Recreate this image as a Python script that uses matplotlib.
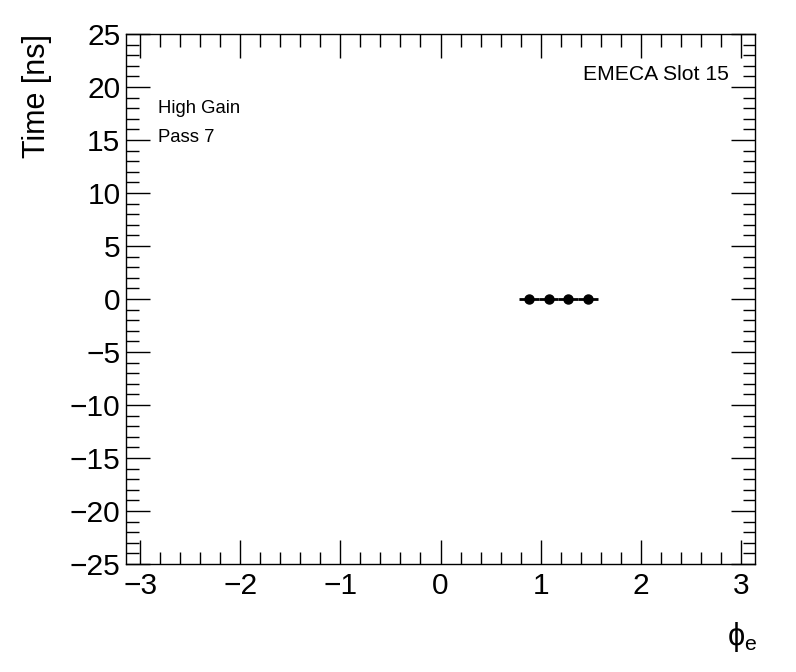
import numpy as np
import matplotlib.pyplot as plt
from matplotlib.ticker import MultipleLocator

# data
phi = [0.884, 1.080, 1.276, 1.473]
phi_err = [0.098, 0.098, 0.098, 0.098]
time_ns = [0.0, 0.0, 0.0, 0.0]
time_err = [0.0, 0.0, 0.0, 0.0]

plt.rcParams['font.family'] = ['Liberation Sans', 'DejaVu Sans']
plt.rcParams['mathtext.fontset'] = 'custom'
plt.rcParams['mathtext.rm'] = 'Liberation Sans'
plt.rcParams['mathtext.it'] = 'Liberation Sans'

fig = plt.figure(figsize=(7.96, 6.72), dpi=100)
ax = fig.add_axes([0.1583, 0.1607, 0.7902, 0.7887])

ax.errorbar(phi, time_ns, xerr=phi_err, yerr=time_err, fmt='o', color='black',
            markersize=6.5, elinewidth=2, capsize=0)

ax.set_xlim(-np.pi, np.pi)
ax.set_ylim(-25, 25)
ax.xaxis.set_major_locator(MultipleLocator(1))
ax.xaxis.set_minor_locator(MultipleLocator(0.2))
ax.yaxis.set_major_locator(MultipleLocator(5))
ax.yaxis.set_minor_locator(MultipleLocator(1))
ax.tick_params(which='both', direction='in', top=True, right=True, width=1)
ax.tick_params(which='major', length=17, labelsize=21.5)
ax.tick_params(which='minor', length=9)
ax.tick_params(axis='x', which='major', pad=6)
ax.tick_params(axis='y', which='major', pad=4)
for s in ax.spines.values():
    s.set_linewidth(1)

ax.set_ylabel('Time [ns]', fontsize=22, loc='top')
ax.yaxis.set_label_coords(-0.118, 1.0)
ax.set_xlabel(r'$\phi_{e}$', fontsize=22, loc='right')
ax.xaxis.set_label_coords(1.003, -0.105)

ax.text(0.051, 0.851, 'High Gain', transform=ax.transAxes, fontsize=13.3)
ax.text(0.051, 0.797, 'Pass 7', transform=ax.transAxes, fontsize=13.3)
ax.text(0.959, 0.913, 'EMECA Slot 15', transform=ax.transAxes, fontsize=15.2, ha='right')

plt.savefig('out.png', dpi=100)
